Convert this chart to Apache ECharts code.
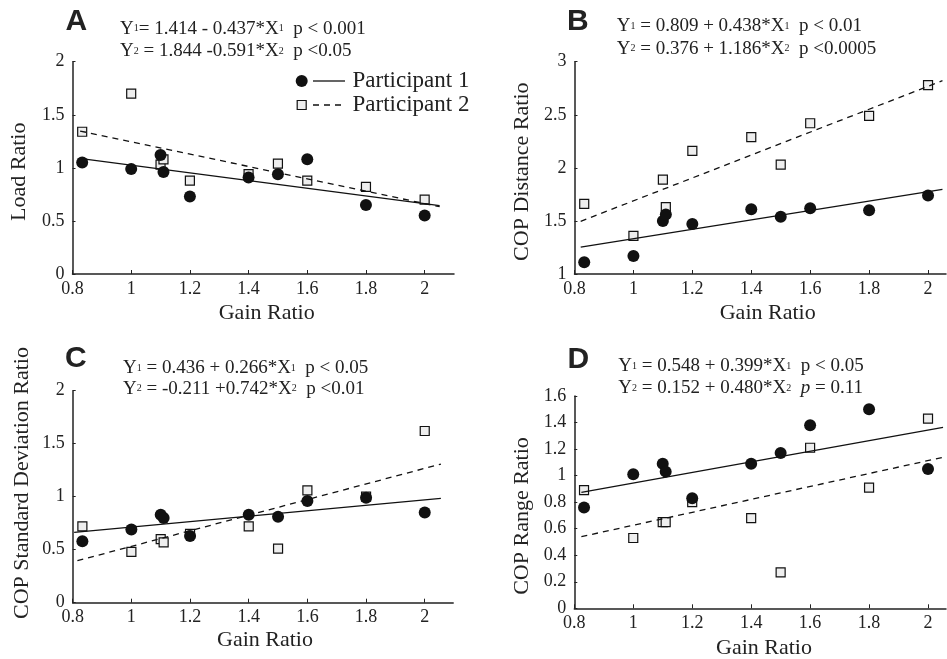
<!DOCTYPE html>
<html>
<head>
<meta charset="utf-8">
<script src="https://cdn.jsdelivr.net/npm/echarts@6/dist/echarts.min.js"></script>
<style>
html,body{margin:0;padding:0;background:#fff;}
#chart{width:947px;height:659px;}
</style>
</head>
<body>
<div id="chart"></div>
<script>
// ---- data ----
var gainRatio = [0.833, 1.0, 1.1, 1.11, 1.2, 1.4, 1.5, 1.6, 1.8, 2.0];
var loadP1  = [1.05, 0.99, 1.12, 0.96, 0.73, 0.91, 0.94, 1.08, 0.65, 0.55];
var loadP2  = [1.34, 1.70, 1.03, 1.08, 0.88, 0.94, 1.04, 0.88, 0.82, 0.70];
var distP1  = [1.11, 1.17, 1.50, 1.56, 1.47, 1.61, 1.54, 1.62, 1.60, 1.74];
var distP2  = [1.66, 1.36, 1.89, 1.63, 2.16, 2.29, 2.03, 2.42, 2.49, 2.78];
var sdP1    = [0.58, 0.69, 0.83, 0.80, 0.63, 0.83, 0.81, 0.96, 0.99, 0.85];
var sdP2    = [0.72, 0.48, 0.60, 0.57, 0.65, 0.72, 0.51, 1.06, 1.00, 1.62];
var rangeP1 = [0.76, 1.01, 1.09, 1.03, 0.83, 1.09, 1.17, 1.38, 1.50, 1.05];
var rangeP2 = [0.89, 0.53, 0.65, 0.65, 0.80, 0.68, 0.27, 1.21, 0.91, 1.43];

// regression line end points
var fitA1 = [[0.843, 1.083], [2.051, 0.644]];
var fitA2 = [[0.826, 1.347], [2.051, 0.634]];
var fitB1 = [[0.821, 1.254], [2.049, 1.797]];
var fitB2 = [[0.821, 1.496], [2.049, 2.821]];
var fitC1 = [[0.805, 0.664], [2.055, 0.984]];
var fitC2 = [[0.816, 0.396], [2.055, 1.308]];
var fitD1 = [[0.824, 0.874], [2.051, 1.364]];
var fitD2 = [[0.824, 0.540], [2.051, 1.138]];

var xTicks = [0.8, 1.0, 1.2, 1.4, 1.6, 1.8, 2.0];
var yTicksA = [0, 0.5, 1, 1.5, 2];
var yTicksB = [1, 1.5, 2, 2.5, 3];
var yTicksC = [0, 0.5, 1, 1.5, 2];
var yTicksD = [0, 0.2, 0.4, 0.6, 0.8, 1.0, 1.2, 1.4, 1.6];

var panelLetters = ['A', 'B', 'C', 'D'];
var yTitles = ['Load Ratio', 'COP Distance Ratio', 'COP Standard Deviation Ratio', 'COP Range Ratio'];
var xTitle = 'Gain Ratio';
var legendNames = ['Participant 1', 'Participant 2'];

// ---- layout ----
var FONT = '"Liberation Serif", "Times New Roman", serif';
var INK = '#222';
var grids = [
  {left: 72.5, top: 61.7, width: 381.5, height: 212.3},
  {left: 574.5, top: 61.7, width: 371.5, height: 212.3},
  {left: 72.7, top: 390.7, width: 380.5, height: 212},
  {left: 574.3, top: 396, width: 371.7, height: 212.3}
];
var xMax = [2.1, 2.061, 2.097, 2.061];
var yRanges = [[0, 2, yTicksA], [1, 3, yTicksB], [0, 2, yTicksC], [0, 1.6, yTicksD]];

function pairs(xs, ys) { return xs.map(function (x, i) { return [x, ys[i]]; }); }
var p1 = [loadP1, distP1, sdP1, rangeP1];
var p2 = [loadP2, distP2, sdP2, rangeP2];
var fit1 = [fitA1, fitB1, fitC1, fitD1];
var fit2 = [fitA2, fitB2, fitC2, fitD2];

var xAxes = [], yAxes = [], series = [], gridOpts = [];
for (var i = 0; i < 4; i++) {
  var g = grids[i];
  gridOpts.push({left: g.left, top: g.top, width: g.width, height: g.height, containLabel: false, outerBoundsMode: 'none'});
  xAxes.push({
    type: 'value', gridIndex: i, min: 0.8, max: xMax[i], interval: 0.2,
    splitLine: {show: false},
    axisLine: {show: true, onZero: false, lineStyle: {color: INK, width: 1.5}},
    axisTick: {show: true, inside: true, length: 4, customValues: xTicks, lineStyle: {color: INK, width: 1}},
    axisLabel: {customValues: xTicks, color: INK, fontFamily: FONT, fontSize: 18, margin: 6,
      formatter: function (v) { return String(+v.toFixed(1)); }}
  });
  var yr = yRanges[i];
  yAxes.push({
    type: 'value', gridIndex: i, min: yr[0], max: yr[1],
    splitLine: {show: false},
    axisLine: {show: true, onZero: false, lineStyle: {color: INK, width: 1.5}},
    axisTick: {show: true, inside: true, length: 3, customValues: yr[2], lineStyle: {color: INK, width: 1}},
    axisLabel: {customValues: yr[2], color: INK, fontFamily: FONT, fontSize: 18, margin: 8,
      formatter: function (v) { return String(+v.toFixed(1)); }}
  });
  series.push({
    type: 'scatter', xAxisIndex: i, yAxisIndex: i, name: legendNames[0],
    data: pairs(gainRatio, p1[i]), symbol: 'circle', symbolSize: 12,
    itemStyle: {color: '#111', opacity: 1}, z: 3
  });
  series.push({
    type: 'scatter', xAxisIndex: i, yAxisIndex: i, name: legendNames[1],
    data: pairs(gainRatio, p2[i]), symbol: 'rect', symbolSize: 9,
    itemStyle: {color: '#eeeeee', borderColor: '#111', borderWidth: 1.2, opacity: 1}, z: 2
  });
  series.push({
    type: 'line', xAxisIndex: i, yAxisIndex: i, data: fit1[i], showSymbol: false, symbol: 'none',
    lineStyle: {color: '#111', width: 1.3, type: 'solid'}, z: 4, silent: true
  });
  series.push({
    type: 'line', xAxisIndex: i, yAxisIndex: i, data: fit2[i], showSymbol: false, symbol: 'none',
    lineStyle: {color: '#111', width: 1.3, type: [6, 5]}, z: 4, silent: true
  });
}

// ---- texts ----
var rich = {
  n: {fontFamily: FONT, fontSize: 19, fill: INK, color: INK},
  s: {fontFamily: FONT, fontSize: 10, fill: INK, color: INK},
  i: {fontFamily: FONT, fontSize: 19, fontStyle: 'italic', fill: INK, color: INK}
};
function eq(x, y, txt) {
  return {type: 'text', left: x, top: y - 11.5, style: {text: txt, rich: rich, fill: INK}};
}
var graphics = [];
var letterPos = [[65.5, 21.7], [567, 21.7], [65, 358.3], [567.5, 360]];
letterPos.forEach(function (p, k) {
  graphics.push({type: 'text', x: p[0], y: p[1], style: {text: panelLetters[k], x: 0, y: 0,
    font: 'bold 30px "Liberation Sans", Arial, sans-serif', fill: INK, textAlign: 'left', textVerticalAlign: 'middle'}});
});
graphics.push(eq(120, 30.7, '{n|Y}{s|1}{n|= 1.414 - 0.437*X}{s|1}{n|  p < 0.001}'));
graphics.push(eq(120, 53.3, '{n|Y}{s|2}{n| = 1.844 -0.591*X}{s|2}{n|  p <0.05}'));
graphics.push(eq(616.7, 28.3, '{n|Y}{s|1}{n| = 0.809 + 0.438*X}{s|1}{n|  p < 0.01}'));
graphics.push(eq(616.7, 50.7, '{n|Y}{s|2}{n| = 0.376 + 1.186*X}{s|2}{n|  p <0.0005}'));
graphics.push(eq(123, 370, '{n|Y}{s|1}{n| = 0.436 + 0.266*X}{s|1}{n|  p < 0.05}'));
graphics.push(eq(123, 390.7, '{n|Y}{s|2}{n| = -0.211 +0.742*X}{s|2}{n|  p <0.01}'));
graphics.push(eq(618.3, 368.3, '{n|Y}{s|1}{n| = 0.548 + 0.399*X}{s|1}{n|  p < 0.05}'));
graphics.push(eq(618.3, 390, '{n|Y}{s|2}{n| = 0.152 + 0.480*X}{s|2}{n|  }{i|p}{n| = 0.11}'));

var xtPos = [[266.7, 313.3], [767.7, 313], [265, 640], [764, 648]];
xtPos.forEach(function (p) {
  graphics.push({type: 'text', x: p[0], y: p[1], style: {text: xTitle, x: 0, y: 0,
    font: '22px ' + FONT, fill: INK, textAlign: 'center', textVerticalAlign: 'middle'}});
});
var ytPos = [[19.5, 171.7], [522.5, 171.7], [22.5, 483], [522.5, 516]];
ytPos.forEach(function (p, k) {
  graphics.push({type: 'text', x: p[0], y: p[1], rotation: Math.PI / 2, style: {text: yTitles[k], x: 0, y: 0,
    font: '22px ' + FONT, fill: INK, textAlign: 'center', textVerticalAlign: 'middle'}});
});

// legend (panel A)
graphics.push({type: 'circle', shape: {cx: 301.7, cy: 81, r: 6}, style: {fill: '#111'}});
graphics.push({type: 'line', shape: {x1: 313, y1: 81, x2: 345, y2: 81}, style: {stroke: '#111', lineWidth: 1.3}});
graphics.push({type: 'text', x: 352.5, y: 81, style: {text: legendNames[0], x: 0, y: 0,
  font: '23px ' + FONT, fill: INK, textAlign: 'left', textVerticalAlign: 'middle'}});
graphics.push({type: 'rect', shape: {x: 297.2, y: 100.5, width: 9, height: 9}, style: {fill: '#eeeeee', stroke: '#111', lineWidth: 1.2}});
graphics.push({type: 'line', shape: {x1: 313, y1: 105, x2: 345, y2: 105}, style: {stroke: '#111', lineWidth: 1.3, lineDash: [6, 5]}});
graphics.push({type: 'text', x: 352.5, y: 105, style: {text: legendNames[1], x: 0, y: 0,
  font: '23px ' + FONT, fill: INK, textAlign: 'left', textVerticalAlign: 'middle'}});

var chart = echarts.init(document.getElementById('chart'), null, {renderer: 'canvas'});
chart.setOption({
  animation: false,
  backgroundColor: '#fff',
  grid: gridOpts,
  xAxis: xAxes,
  yAxis: yAxes,
  series: series,
  graphic: graphics
});
</script>
</body>
</html>
